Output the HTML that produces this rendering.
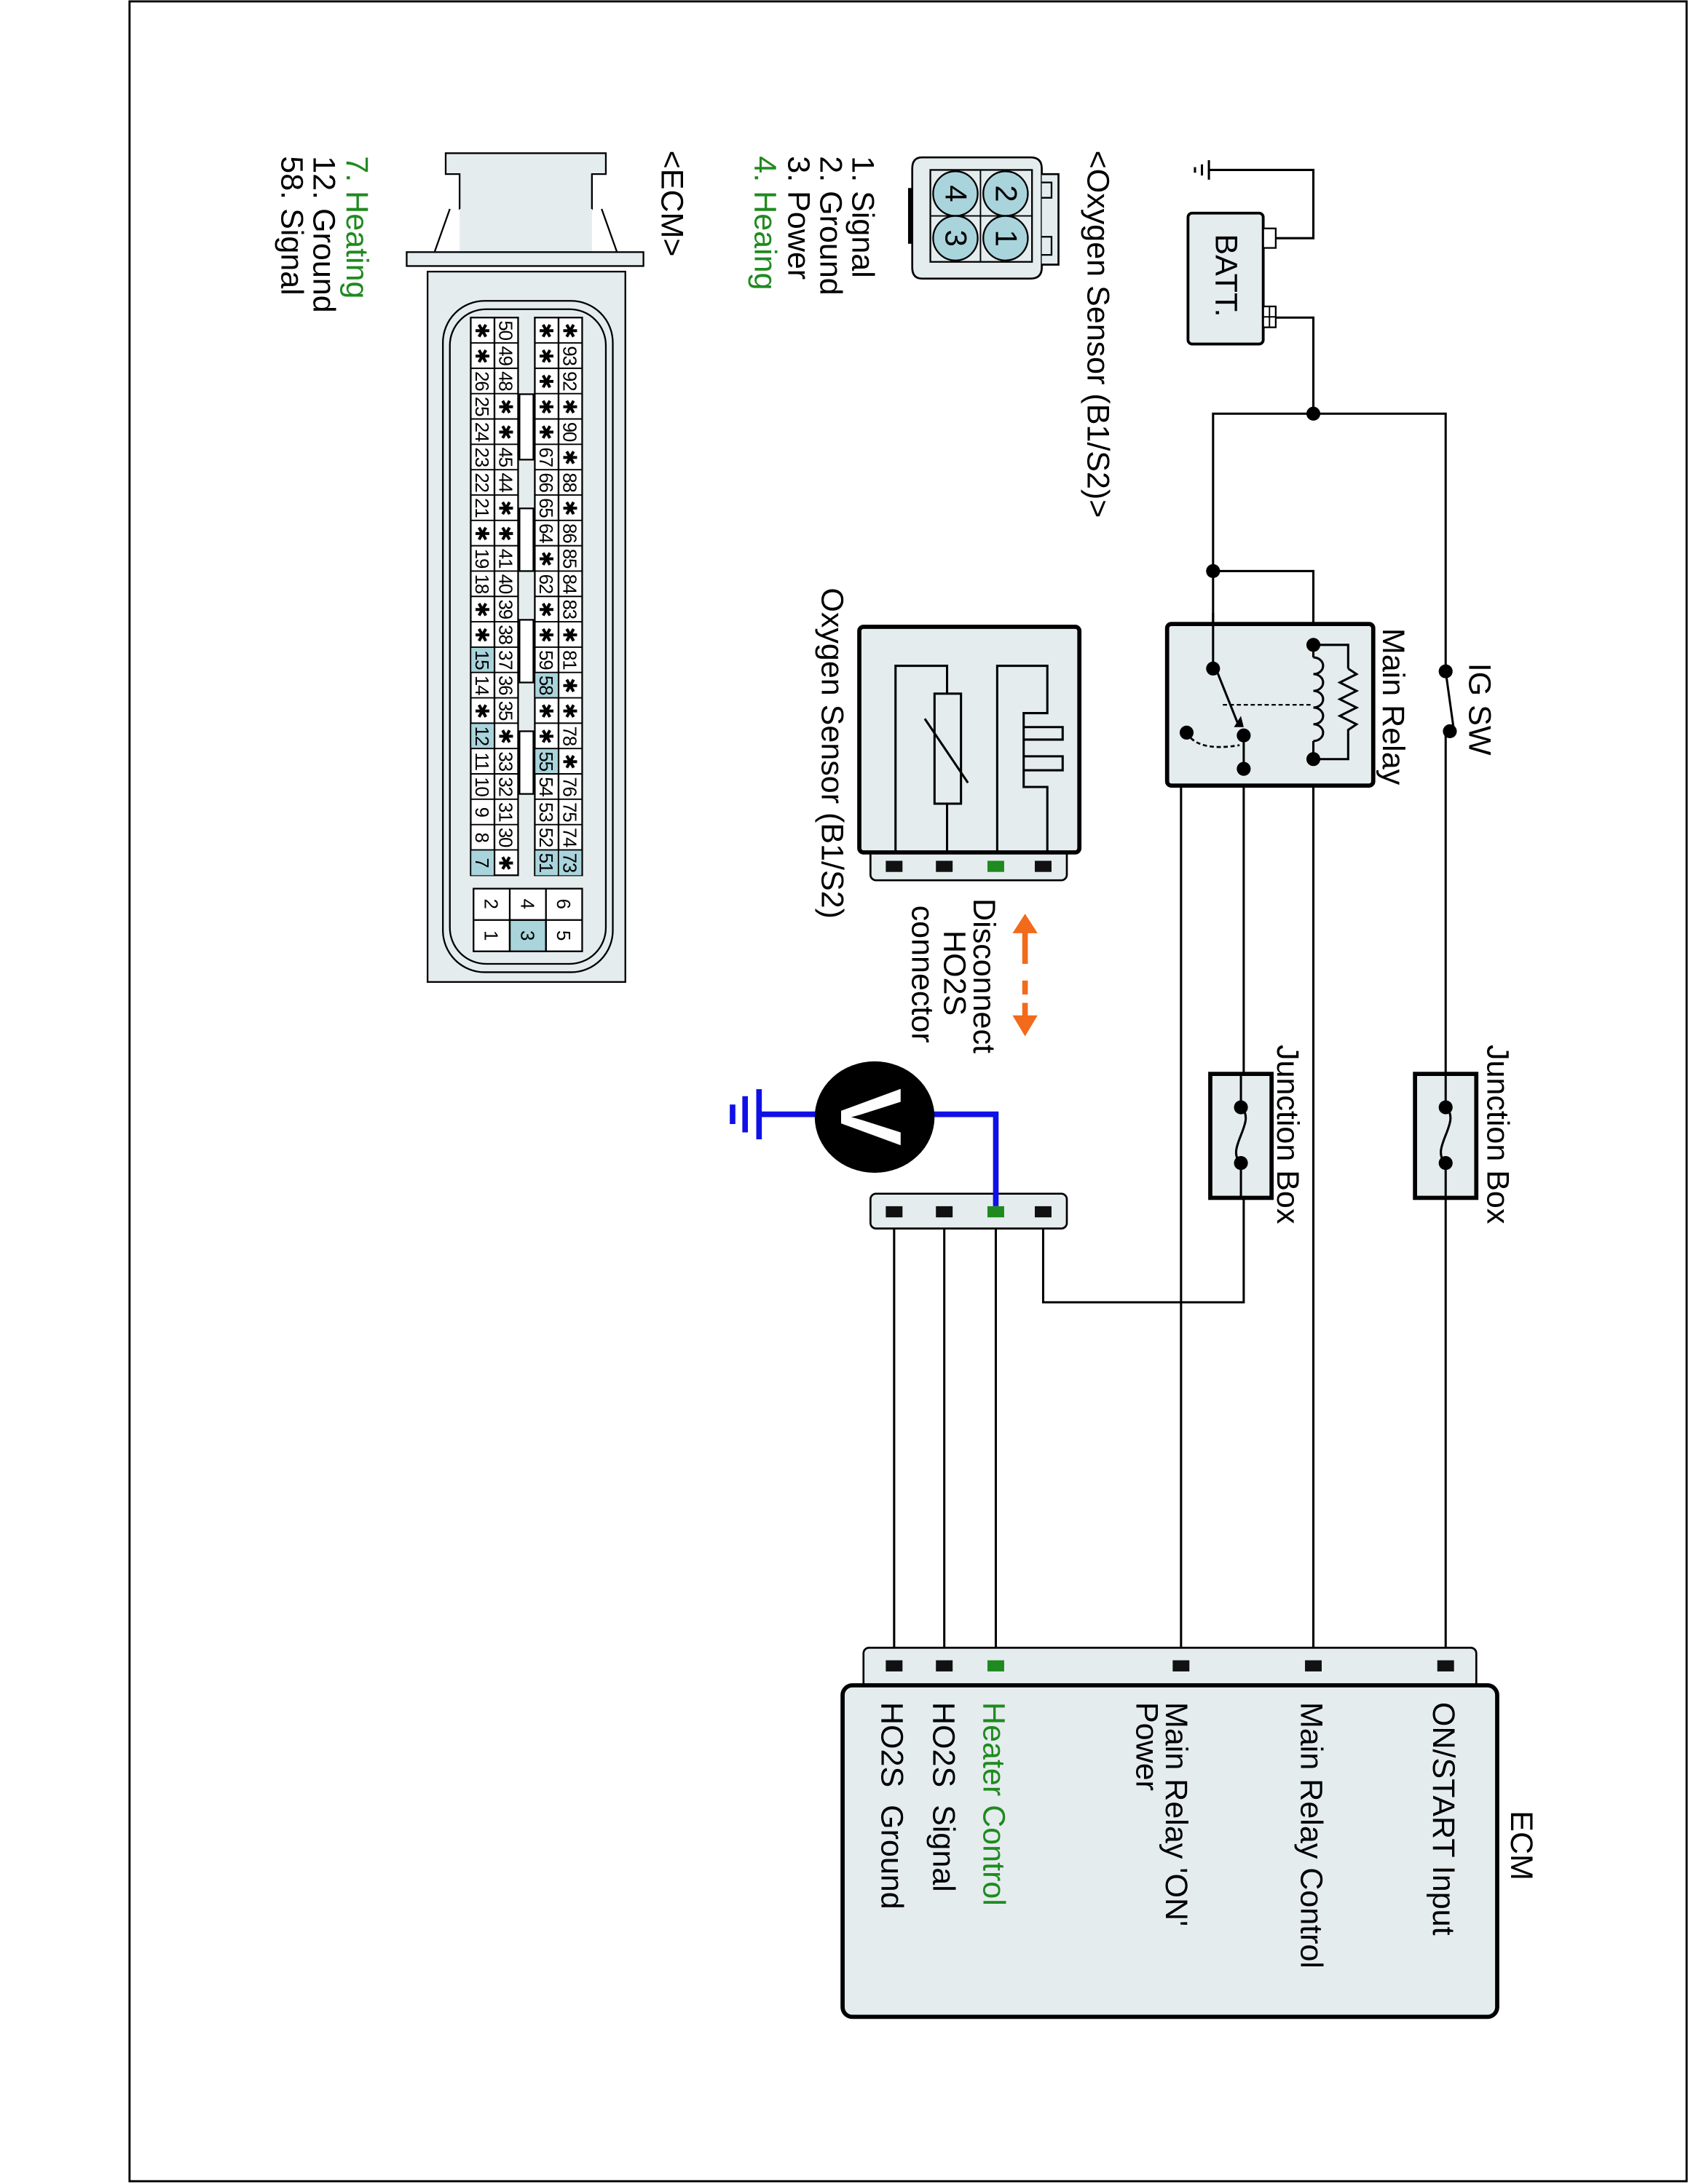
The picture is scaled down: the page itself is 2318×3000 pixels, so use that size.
<!DOCTYPE html>
<html><head><meta charset="utf-8"><style>html,body{margin:0;padding:0;background:#fff}svg{display:block}</style></head>
<body>
<svg xmlns="http://www.w3.org/2000/svg" width="2318" height="3000" viewBox="0 0 1212 1568" preserveAspectRatio="none" font-family="Liberation Sans, sans-serif">
<rect x="93" y="1" width="1118" height="1565" fill="none" stroke="#000" stroke-width="1.5"/>
<g fill="none" stroke="#000" stroke-width="1.6">
<polyline points="916,171 943,171 943,122 868,122"/>
<line x1="868" y1="115" x2="868" y2="129"/><line x1="863" y1="118" x2="863" y2="126"/><line x1="858" y1="120" x2="858" y2="124"/>
<polyline points="916,228 943,228 943,297"/>
<polyline points="871,410 871,297 1038,297 1038,482"/>
<polyline points="871,410 943,410 943,463"/>
<line x1="871" y1="410" x2="871" y2="480"/>
<line x1="1038" y1="525" x2="1038" y2="770"/>
<line x1="1038" y1="860" x2="1038" y2="1195"/>
<line x1="943" y1="545" x2="943" y2="1195"/>
<polyline points="848,1195 848,552 893,552"/>
<line x1="893" y1="528" x2="893" y2="770"/>
<polyline points="893,860 893,935 749,935 749,870"/>
<line x1="642" y1="870" x2="642" y2="1195"/>
<line x1="678" y1="870" x2="678" y2="1195"/>
<line x1="715" y1="870" x2="715" y2="1195"/>
</g>
<rect x="853" y="153" width="54" height="94" rx="3" fill="#e4ecee" stroke="#000" stroke-width="2"/>
<rect x="907" y="164" width="9" height="14" fill="#fff" stroke="#000" stroke-width="1.2"/>
<rect x="907" y="220" width="9" height="15" fill="#fff" stroke="#000" stroke-width="1.2"/>
<line x1="907" y1="227.5" x2="916" y2="227.5" stroke="#000" stroke-width="1"/><line x1="911.5" y1="220" x2="911.5" y2="235" stroke="#000" stroke-width="1"/>
<text transform="translate(873,168) rotate(90)" font-size="22.5">BATT.</text>
<line x1="1038" y1="482" x2="1044" y2="525" stroke="#000" stroke-width="1.6"/>
<text transform="translate(1055,476) rotate(90)" font-size="22.5">IG SW</text>
<rect x="838" y="448" width="148" height="116" rx="3" fill="#e4ecee" stroke="#000" stroke-width="3"/>
<g fill="none" stroke="#000" stroke-width="1.6">
<line x1="871" y1="440" x2="871" y2="480"/>
<polyline points="943,463 968,463 968,480"/>
<polyline points="968,480 974,484 962,490 974,496 962,502 974,508 962,514 974,520 968,524 968,545 943,545"/>
<path d="M943,472 a7,6 0 0 1 0,12 a7,6 0 0 1 0,12 a7,6 0 0 1 0,12 a7,6 0 0 1 0,12 a7,6 0 0 1 0,12"/>
<line x1="943" y1="463" x2="943" y2="472"/><line x1="943" y1="532" x2="943" y2="545"/>
<line x1="873" y1="480" x2="889" y2="520"/>
<line x1="878" y1="506" x2="943" y2="506" stroke-dasharray="3,2" stroke-width="1.2"/>
<path d="M852,526 Q860,540 890,535" stroke-dasharray="3,2" stroke-width="1.4"/>
<line x1="893" y1="528" x2="893" y2="552"/>
</g>
<polygon points="886,522 893,522 891,514" fill="#000"/>
<g fill="#000"><circle cx="943" cy="297" r="5"/><circle cx="871" cy="410" r="5"/><circle cx="871" cy="480" r="5"/><circle cx="1038" cy="482" r="5"/><circle cx="1041" cy="525" r="5"/><circle cx="943" cy="463" r="5"/><circle cx="943" cy="545" r="5"/><circle cx="893" cy="528" r="5"/><circle cx="893" cy="552" r="5"/><circle cx="852" cy="526" r="5"/></g>
<text transform="translate(993,451) rotate(90)" font-size="22.5">Main Relay</text>
<g>
<rect x="1016" y="771" width="44" height="89" fill="#e4ecee" stroke="#000" stroke-width="3"/>
<path d="M1038,795 C1050,805 1026,825 1038,835" fill="none" stroke="#000" stroke-width="1.6"/>
<circle cx="1038" cy="795" r="5"/><circle cx="1038" cy="835" r="5"/>
<line x1="1038" y1="771" x2="1038" y2="795" stroke="#000" stroke-width="1.6"/><line x1="1038" y1="835" x2="1038" y2="860" stroke="#000" stroke-width="1.6"/>
<text transform="translate(1068,750) rotate(90)" font-size="22.5">Junction Box</text>
<rect x="869" y="771" width="44" height="89" fill="#e4ecee" stroke="#000" stroke-width="3"/>
<path d="M891,795 C903,805 879,825 891,835" fill="none" stroke="#000" stroke-width="1.6"/>
<circle cx="891" cy="795" r="5"/><circle cx="891" cy="835" r="5"/>
<line x1="891" y1="771" x2="891" y2="795" stroke="#000" stroke-width="1.6"/><line x1="891" y1="835" x2="891" y2="860" stroke="#000" stroke-width="1.6"/>
<text transform="translate(917,750) rotate(90)" font-size="22.5">Junction Box</text>
</g>
<rect x="620" y="1183" width="440" height="30" rx="4" fill="#e4ecee" stroke="#000" stroke-width="1.4"/>
<rect x="605" y="1210" width="470" height="238" rx="7" fill="#e4ecee" stroke="#000" stroke-width="3"/>
<g fill="#111"><rect x="636" y="1192" width="12" height="8"/><rect x="672" y="1192" width="12" height="8"/><rect x="842" y="1192" width="12" height="8"/><rect x="937" y="1192" width="12" height="8"/><rect x="1032" y="1192" width="12" height="8"/></g>
<rect x="709" y="1192" width="12" height="8" fill="#1f8a1f"/>
<g font-size="22.5">
<text transform="translate(1085,1300) rotate(90)">ECM</text>
<text transform="translate(1029,1222) rotate(90)">ON/START Input</text>
<text transform="translate(934,1222) rotate(90)">Main Relay Control</text>
<text transform="translate(837,1222) rotate(90)">Main Relay 'ON'</text>
<text transform="translate(816,1222) rotate(90)">Power</text>
<text transform="translate(706,1222) rotate(90)" fill="#1f8a1f">Heater Control</text>
<text transform="translate(670,1222) rotate(90)" xml:space="preserve">HO2S  Signal</text>
<text transform="translate(633,1222) rotate(90)" xml:space="preserve">HO2S  Ground</text>
</g>
<rect x="625" y="857" width="141" height="25" rx="4" fill="#e4ecee" stroke="#000" stroke-width="1.4"/>
<g fill="#111"><rect x="636" y="866" width="12" height="8"/><rect x="672" y="866" width="12" height="8"/><rect x="743" y="866" width="12" height="8"/></g>
<polyline points="715,866 715,800 670,800" fill="none" stroke="#1010e6" stroke-width="4"/>
<polyline points="586,800 545,800" fill="none" stroke="#1010e6" stroke-width="4"/>
<g stroke="#1010e6" stroke-width="4"><line x1="545" y1="782" x2="545" y2="818"/><line x1="535" y1="787" x2="535" y2="813"/><line x1="526" y1="793" x2="526" y2="807"/></g>
<rect x="709" y="866" width="12" height="8" fill="#1f8a1f"/>
<ellipse cx="628" cy="802" rx="43" ry="40" fill="#000"/>
<text transform="translate(604,802) rotate(90)" font-size="62" font-weight="bold" fill="#fff" text-anchor="middle">V</text>
<g stroke="#f26a1b" stroke-width="4"><line x1="736" y1="668" x2="736" y2="692"/><line x1="736" y1="704" x2="736" y2="714"/><line x1="736" y1="720" x2="736" y2="732"/></g>
<polygon points="727,670 745,670 736,656" fill="#f26a1b"/>
<polygon points="727,729 745,729 736,744" fill="#f26a1b"/>
<g font-size="22.5">
<text transform="translate(699,645) rotate(90)">Disconnect</text>
<text transform="translate(678,668) rotate(90)">HO2S</text>
<text transform="translate(655,650) rotate(90)">connector</text>
</g>
<rect x="625" y="607" width="141" height="25" rx="4" fill="#e4ecee" stroke="#000" stroke-width="1.4"/>
<rect x="617" y="450" width="158" height="162" rx="3" fill="#e4ecee" stroke="#000" stroke-width="3"/>
<g fill="#111"><rect x="636" y="618" width="12" height="8"/><rect x="672" y="618" width="12" height="8"/><rect x="743" y="618" width="12" height="8"/></g>
<rect x="709" y="618" width="12" height="8" fill="#1f8a1f"/>
<g fill="none" stroke="#000" stroke-width="1.6">
<polyline points="643,612 643,478 680,478 680,498"/>
<rect x="671" y="498" width="19" height="79"/>
<line x1="680" y1="577" x2="680" y2="612"/>
<line x1="664" y1="516" x2="695" y2="562"/>
<polyline points="716,612 716,478 752,478 752,512 735,512 735,565 752,565 752,612"/>
<polyline points="735,522 763,522 763,531 735,531"/>
<polyline points="735,543 763,543 763,553 735,553"/>
</g>
<text transform="translate(590,422) rotate(90)" font-size="22.5">Oxygen Sensor (B1/S2)</text>
<text transform="translate(781,108) rotate(90)" font-size="22.5">&lt;Oxygen Sensor (B1/S2)&gt;</text>
<path d="M662,113 H740 Q748,113 748,121 V192 Q748,200 740,200 H662 Q655,200 655,192 V121 Q655,113 662,113 Z" fill="#e4ecee" stroke="#000" stroke-width="1.4"/>
<path d="M748,125 H760 V190 H748" fill="#e4ecee" stroke="#000" stroke-width="1.4"/>
<path d="M748,131 H755 V142 H748 M748,170 H755 V183 H748" fill="none" stroke="#000" stroke-width="1.2"/>
<rect x="652" y="135" width="3" height="40" fill="#000"/>
<rect x="668" y="122" width="73" height="66" fill="#e4ecee" stroke="#000" stroke-width="1.2"/>
<line x1="704" y1="122" x2="704" y2="188" stroke="#000" stroke-width="1"/><line x1="668" y1="155" x2="741" y2="155" stroke="#000" stroke-width="1"/>
<g fill="#a9d4dc" stroke="#000" stroke-width="1.2"><circle cx="722" cy="139" r="16"/><circle cx="722" cy="171" r="16"/><circle cx="686" cy="139" r="16"/><circle cx="686" cy="171" r="16"/></g>
<g font-size="22" text-anchor="middle">
<text transform="translate(715,139) rotate(90)">2</text>
<text transform="translate(715,171) rotate(90)">1</text>
<text transform="translate(679,139) rotate(90)">4</text>
<text transform="translate(679,171) rotate(90)">3</text>
</g>
<g font-size="22.5">
<text transform="translate(612,112) rotate(90)">1. Signal</text>
<text transform="translate(589,112) rotate(90)">2. Ground</text>
<text transform="translate(566,112) rotate(90)">3. Power</text>
<text transform="translate(542,112) rotate(90)" fill="#1f8a1f">4. Heaing</text>
<text transform="translate(475,108) rotate(90)">&lt;ECM&gt;</text>
<text transform="translate(249,112) rotate(90)" fill="#1f8a1f">7. Heating</text>
<text transform="translate(225,112) rotate(90)">12. Ground</text>
<text transform="translate(202,112) rotate(90)">58. Signal</text>
</g>
<g fill="#e4ecee" stroke="#000" stroke-width="1.2">
<path d="M320,110 H435 V125 H425 V150 H330 V125 H320 Z"/>
<rect x="330" y="125" width="95" height="58" stroke="none"/>
<line x1="330" y1="125" x2="330" y2="150"/><line x1="425" y1="125" x2="425" y2="150"/>
<path d="M323,150 L312,181 M432,150 L443,181" fill="none"/>
<rect x="292" y="181" width="170" height="10"/>
<rect x="307" y="195" width="142" height="510"/>
<rect x="318" y="216" width="122" height="482" rx="30"/>
<rect x="323" y="222" width="112" height="470" rx="26"/>
</g>
<g transform="translate(418,228) rotate(90)">
<g fill="#fff" stroke="#000" stroke-width="1.2">
<rect x="0" y="0" width="400.4" height="17"/><rect x="0" y="17" width="400.4" height="17"/>
<rect x="0" y="46" width="400.4" height="17"/><rect x="0" y="63" width="400.4" height="17"/>
</g>
<g fill="#a9d4dc">
<rect x="382.2" y="0.6" width="18.2" height="16"/>
<rect x="254.8" y="17.6" width="18.2" height="16"/><rect x="309.4" y="17.6" width="18.2" height="16"/><rect x="382.2" y="17.6" width="18.2" height="16"/>
<rect x="236.6" y="63.6" width="18.2" height="16"/><rect x="291.2" y="63.6" width="18.2" height="16"/><rect x="382.2" y="63.6" width="18.2" height="16"/>
</g>
<g stroke="#000" stroke-width="1">
<path d="M18.2,0V34M36.4,0V34M54.6,0V34M72.8,0V34M91,0V34M109.2,0V34M127.4,0V34M145.6,0V34M163.8,0V34M182,0V34M200.2,0V34M218.4,0V34M236.6,0V34M254.8,0V34M273,0V34M291.2,0V34M309.4,0V34M327.6,0V34M345.8,0V34M364,0V34M382.2,0V34"/>
<path d="M18.2,46V80M36.4,46V80M54.6,46V80M72.8,46V80M91,46V80M109.2,46V80M127.4,46V80M145.6,46V80M163.8,46V80M182,46V80M200.2,46V80M218.4,46V80M236.6,46V80M254.8,46V80M273,46V80M291.2,46V80M309.4,46V80M327.6,46V80M345.8,46V80M364,46V80M382.2,46V80"/>
</g>
<g fill="#fff" stroke="#000" stroke-width="1.2">
<rect x="55" y="35" width="47" height="10"/><rect x="137" y="35" width="45" height="10"/><rect x="217" y="35" width="45" height="10"/><rect x="297" y="35" width="45" height="10"/>
</g>
<g font-size="13.5" text-anchor="middle" letter-spacing="-0.6">
<text y="13.5"><tspan x="9.1">✱</tspan><tspan x="27.3">93</tspan><tspan x="45.5">92</tspan><tspan x="63.7">✱</tspan><tspan x="81.9">90</tspan><tspan x="100.1">✱</tspan><tspan x="118.3">88</tspan><tspan x="136.5">✱</tspan><tspan x="154.7">86</tspan><tspan x="172.9">85</tspan><tspan x="191.1">84</tspan><tspan x="209.3">83</tspan><tspan x="227.5">✱</tspan><tspan x="245.7">81</tspan><tspan x="263.9">✱</tspan><tspan x="282.1">✱</tspan><tspan x="300.3">78</tspan><tspan x="318.5">✱</tspan><tspan x="336.7">76</tspan><tspan x="354.9">75</tspan><tspan x="373.1">74</tspan><tspan x="391.3">73</tspan></text>
<text y="30.5"><tspan x="9.1">✱</tspan><tspan x="27.3">✱</tspan><tspan x="45.5">✱</tspan><tspan x="63.7">✱</tspan><tspan x="81.9">✱</tspan><tspan x="100.1">67</tspan><tspan x="118.3">66</tspan><tspan x="136.5">65</tspan><tspan x="154.7">64</tspan><tspan x="172.9">✱</tspan><tspan x="191.1">62</tspan><tspan x="209.3">✱</tspan><tspan x="227.5">✱</tspan><tspan x="245.7">59</tspan><tspan x="263.9">58</tspan><tspan x="282.1">✱</tspan><tspan x="300.3">✱</tspan><tspan x="318.5">55</tspan><tspan x="336.7">54</tspan><tspan x="354.9">53</tspan><tspan x="373.1">52</tspan><tspan x="391.3">51</tspan></text>
<text y="59.5"><tspan x="9.1">50</tspan><tspan x="27.3">49</tspan><tspan x="45.5">48</tspan><tspan x="63.7">✱</tspan><tspan x="81.9">✱</tspan><tspan x="100.1">45</tspan><tspan x="118.3">44</tspan><tspan x="136.5">✱</tspan><tspan x="154.7">✱</tspan><tspan x="172.9">41</tspan><tspan x="191.1">40</tspan><tspan x="209.3">39</tspan><tspan x="227.5">38</tspan><tspan x="245.7">37</tspan><tspan x="263.9">36</tspan><tspan x="282.1">35</tspan><tspan x="300.3">✱</tspan><tspan x="318.5">33</tspan><tspan x="336.7">32</tspan><tspan x="354.9">31</tspan><tspan x="373.1">30</tspan><tspan x="391.3">✱</tspan></text>
<text y="76.5"><tspan x="9.1">✱</tspan><tspan x="27.3">✱</tspan><tspan x="45.5">26</tspan><tspan x="63.7">25</tspan><tspan x="81.9">24</tspan><tspan x="100.1">23</tspan><tspan x="118.3">22</tspan><tspan x="136.5">21</tspan><tspan x="154.7">✱</tspan><tspan x="172.9">19</tspan><tspan x="191.1">18</tspan><tspan x="209.3">✱</tspan><tspan x="227.5">✱</tspan><tspan x="245.7">15</tspan><tspan x="263.9">14</tspan><tspan x="282.1">✱</tspan><tspan x="300.3">12</tspan><tspan x="318.5">11</tspan><tspan x="336.7">10</tspan><tspan x="354.9">9</tspan><tspan x="373.1">8</tspan><tspan x="391.3">7</tspan></text>
</g>
<g stroke="#000" stroke-width="1.2">
<rect x="410" y="0" width="45" height="78" fill="#fff"/>
<rect x="432.5" y="26" width="22.5" height="26" fill="#a9d4dc"/>
<path d="M432.5,0V78M410,26H455M410,52H455" fill="none"/>
</g>
<g font-size="13.5" text-anchor="middle">
<text x="421" y="18">6</text><text x="443.7" y="18">5</text>
<text x="421" y="44">4</text><text x="443.7" y="44">3</text>
<text x="421" y="70">2</text><text x="443.7" y="70">1</text>
</g>
</g>
</svg>
</body></html>
